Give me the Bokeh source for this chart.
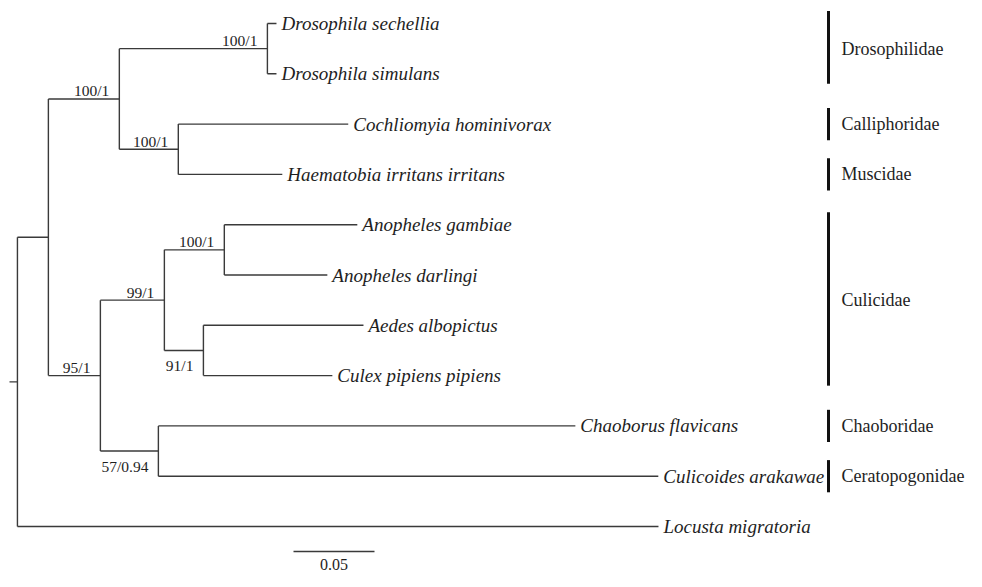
from bokeh.plotting import figure
from bokeh.models import Range1d
from bokeh.embed import file_html
from bokeh.resources import INLINE
from bokeh.core.properties import value

# ---------------- data ----------------
taxa = ["Drosophila sechellia", "Drosophila simulans", "Cochliomyia hominivorax",
        "Haematobia irritans irritans", "Anopheles gambiae", "Anopheles darlingi",
        "Aedes albopictus", "Culex pipiens pipiens", "Chaoborus flavicans",
        "Culicoides arakawae", "Locusta migratoria"]
taxon_parent = ["Drosophila", "Drosophila", "Calliphoridae+Muscidae", "Calliphoridae+Muscidae",
                "Anopheles", "Anopheles", "Aedes+Culex", "Aedes+Culex",
                "Chaoboridae+Ceratopogonidae", "Chaoboridae+Ceratopogonidae", "root"]
taxon_branch = [0.0056, 0.0056, 0.1049, 0.0642, 0.0821, 0.0636, 0.0988, 0.0796,
                0.2574, 0.3086, 0.3957]

clade_names = ["root", "Diptera", "Brachycera", "Drosophila", "Calliphoridae+Muscidae",
               "Nematocera", "Culicidae", "Anopheles", "Aedes+Culex",
               "Chaoboridae+Ceratopogonidae"]
clade_parent = [None, "root", "Diptera", "Brachycera", "Brachycera", "Diptera",
                "Nematocera", "Culicidae", "Culicidae", "Nematocera"]
clade_branch = [0.0049, 0.0191, 0.0438, 0.0914, 0.0364, 0.0321, 0.0395, 0.0370,
                0.0241, 0.0358]
clade_support = [None, None, "100/1", "100/1", "100/1", "95/1", "99/1", "100/1",
                 "91/1", "57/0.94"]
support_below = ["Aedes+Culex", "Chaoboridae+Ceratopogonidae"]

families = ["Drosophilidae", "Calliphoridae", "Muscidae", "Culicidae", "Chaoboridae",
            "Ceratopogonidae"]
family_first = [0, 2, 3, 4, 8, 9]
family_last = [1, 2, 3, 7, 8, 9]

scale_length = 0.05
scale_label = "0.05"

# ---------------- layout ----------------
PX_PER_UNIT = 1620.0
ROW = 50.3
W, H = 966, 571
x_start = -9.0 / PX_PER_UNIT
y_top = -23.0 / ROW

def px_to_x(fx):
    return fx / PX_PER_UNIT + x_start

def px_to_y(fy):
    return fy / ROW + y_top

# ---------------- tree geometry ----------------
parent = dict(zip(clade_names, clade_parent))
parent.update(dict(zip(taxa, taxon_parent)))
blen = dict(zip(clade_names, clade_branch))
blen.update(dict(zip(taxa, taxon_branch)))

xpos = {}
def get_x(n):
    if n in xpos:
        return xpos[n]
    par = parent[n]
    base = 0.0 if par is None else get_x(par)
    xpos[n] = base + blen[n]
    return xpos[n]

for n in list(parent):
    get_x(n)

children = {}
for n, par in parent.items():
    if par is not None:
        children.setdefault(par, []).append(n)

ypos = {t: float(i) for i, t in enumerate(taxa)}
def get_y(n):
    if n in ypos:
        return ypos[n]
    ys = [get_y(c) for c in children[n]]
    ypos[n] = (min(ys) + max(ys)) / 2.0
    return ypos[n]

for n in clade_names:
    get_y(n)

hx0, hx1, hy = [], [], []
for n, par in parent.items():
    start = 0.0 if par is None else xpos[par]
    hx0.append(start); hx1.append(xpos[n]); hy.append(ypos[n])
vx, vy0, vy1 = [], [], []
for n in clade_names:
    ys = [ypos[c] for c in children[n]]
    vx.append(xpos[n]); vy0.append(min(ys)); vy1.append(max(ys))

p = figure(width=W, height=H, output_backend="svg", toolbar_location=None,
           x_range=Range1d(x_start, x_start + W / PX_PER_UNIT),
           y_range=Range1d(y_top + H / ROW, y_top),
           x_axis_type=None, y_axis_type=None, min_border=0,
           outline_line_color=None, background_fill_color="white",
           border_fill_color="white")
p.grid.visible = False

line_col = "#3a3a3a"
text_col = "#1e1e1e"
p.segment(hx0, hy, hx1, hy, line_color=line_col, line_width=1.4)
p.segment(vx, vy0, vx, vy1, line_color=line_col, line_width=1.4)

# taxa labels
p.text([xpos[t] for t in taxa], [ypos[t] for t in taxa], text=taxa,
       text_font=value("Liberation Serif"), text_font_style="italic",
       text_font_size="19px", text_color=text_col, text_baseline="middle",
       text_align="left", x_offset=5)

# support labels
ab_x, ab_y, ab_t, be_x, be_y, be_t = [], [], [], [], [], []
for n, s in zip(clade_names, clade_support):
    if s is None:
        continue
    if n in support_below:
        be_x.append(xpos[n]); be_y.append(ypos[n]); be_t.append(s)
    else:
        ab_x.append(xpos[n]); ab_y.append(ypos[n]); ab_t.append(s)
p.text(ab_x, ab_y, text=ab_t, text_font=value("Liberation Serif"),
       text_font_size="15.5px", text_color=text_col, text_align="right",
       text_baseline="alphabetic", x_offset=-10, y_offset=-8)
p.text(be_x, be_y, text=be_t, text_font=value("Liberation Serif"),
       text_font_size="15.5px", text_color=text_col, text_align="right",
       text_baseline="alphabetic", x_offset=-10, y_offset=15)

# family bars and labels
bar_x = px_to_x(828)
lab_x = px_to_x(841)
fy0, fy1, fyc = [], [], []
for a, b in zip(family_first, family_last):
    if a == b:
        fy0.append(a - 0.32); fy1.append(b + 0.32)
    else:
        fy0.append(a - 0.25); fy1.append(b + 0.2)
    fyc.append((a + b) / 2.0)
p.segment([bar_x] * len(families), fy0, [bar_x] * len(families), fy1,
          line_color="#111111", line_width=3)
p.text([lab_x] * len(families), fyc, text=families,
       text_font=value("Liberation Serif"), text_font_size="18px",
       text_color=text_col, text_baseline="middle", text_align="left")

# scale bar
sb_x = px_to_x(293)
sb_y = px_to_y(551)
p.segment([sb_x], [sb_y], [sb_x + scale_length], [sb_y], line_color=line_col,
          line_width=1.4)
p.text([sb_x + scale_length / 2], [sb_y], text=[scale_label],
       text_font=value("Liberation Serif"), text_font_size="16px",
       text_color=text_col, text_align="center", text_baseline="top", y_offset=7)

open("out.html", "w").write(file_html(p, INLINE))
